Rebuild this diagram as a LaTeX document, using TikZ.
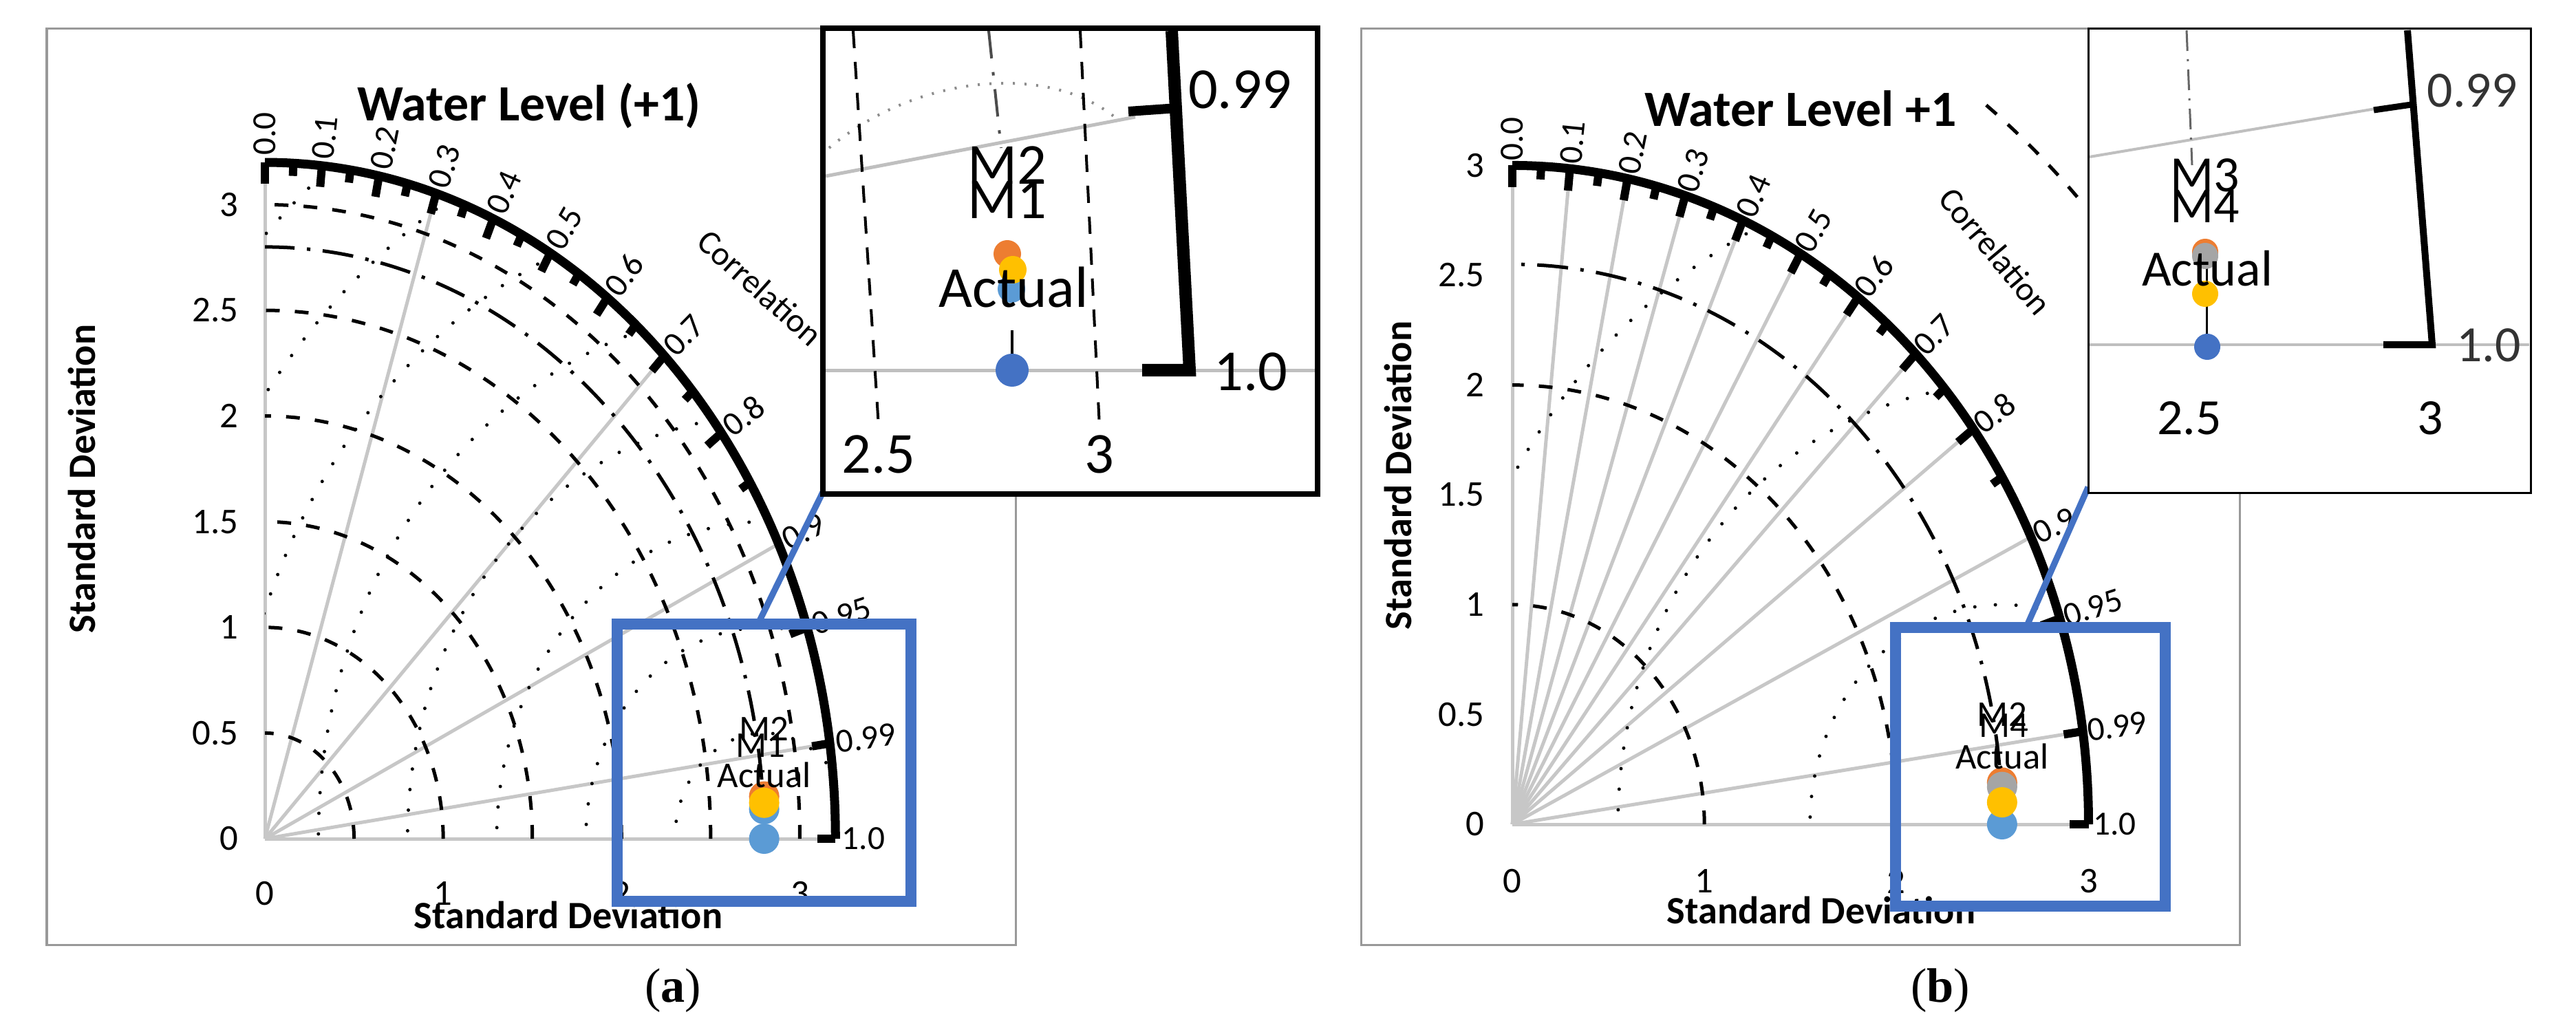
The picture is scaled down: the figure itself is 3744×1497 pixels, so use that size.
\documentclass[tikz,border=0pt]{standalone}
\usepackage{fontspec}
\setmainfont{Carlito}
\newfontfamily\capfont{Liberation Serif}
\begin{document}
\begin{tikzpicture}[x=0.01cm,y=-0.01cm,
  frame/.style={draw=black!40,line width=0.03cm},
  grayline/.style={draw=black!22,line width=0.05cm},
  sdcirc/.style={line width=0.05cm,dash pattern=on 0.2cm off 0.22cm},
  refcirc/.style={line width=0.05cm,dash pattern=on 0.45cm off 0.18cm on 0.05cm off 0.18cm},
  rmscirc/.style={line width=0.05cm,line cap=round,dash pattern=on 0cm off 0.3cm},
  outer/.style={line width=0.13cm},
  tick/.style={line width=0.12cm},
  ttl/.style={font=\fontsize{21}{24}\selectfont\bfseries},
  axl/.style={font=\fontsize{16}{18}\selectfont\bfseries},
  num/.style={font=\fontsize{15}{17}\selectfont},
  clab/.style={font=\fontsize{14}{16}\selectfont},
  big/.style={font=\fontsize{24}{26}\selectfont},
  bigb/.style={font=\fontsize{21}{23}\selectfont},
  bluebox/.style={draw=blue1,line width=0.16cm},
  dot/.style={circle,inner sep=0pt,minimum size=0.44cm}]
\definecolor{blue1}{HTML}{4472C4}
\definecolor{lblue}{HTML}{5B9BD5}
\definecolor{orng}{HTML}{ED7D31}
\definecolor{yell}{HTML}{FFC000}
\definecolor{gry}{HTML}{A5A5A5}
\useasboundingbox[fill=white] (0,0) rectangle (3744,1497);

%================ PANEL A ================
\draw[frame] (68,42) rectangle (1476,1373);
\begin{scope}[shift={(385,1219)},x=2.59cm,y=3.07cm]
  \def\R{3.2}
  \draw[grayline] (0,0) -- (\R,0);
  \draw[grayline] (0,0) -- (0,\R);
  \foreach \c in {0.3,0.7,0.9,0.99} {\draw[grayline] (0,0) -- ({acos(\c)}:\R);}
  \begin{scope}
    \clip (0,0) -- (\R,0) arc[start angle=0,end angle=90,radius=\R] -- cycle;
    \foreach \r in {0.5,1,1.5,2,2.5,3} {\draw[sdcirc] (\r,0) arc[start angle=0,end angle=90,radius=\r];}
    \draw[refcirc] (2.8,0) arc[start angle=0,end angle=90,radius=2.8];
    \foreach \r in {0.5,1,1.5,2,2.5,3,3.5,4} {\draw[rmscirc] (2.8,0) circle[radius=\r];}
  \end{scope}
  \draw[outer] (\R,0) arc[start angle=0,end angle=90,radius=\R];
  \foreach \c in {0,0.1,...,0.9,0.95,0.99,1.0} {\draw[tick] ({acos(\c)}:\R) -- ({acos(\c)}:\R-0.1);}
  \foreach \c in {0.05,0.15,...,0.85} {\draw[tick] ({acos(\c)}:\R) -- ({acos(\c)}:\R-0.06);}
  \foreach \c/\t [count=\i] in {0/0.0,0.1/0.1,0.2/0.2,0.3/0.3,0.4/0.4,0.5/0.5,0.6/0.6,0.7/0.7,0.8/0.8,0.9/0.9,0.95/0.95,0.99/0.99,1.0/1.0}
    {\node[clab,anchor=west,rotate={acos(\c)},inner sep=1pt] (ca\i) at ({acos(\c)}:\R+0.02) {\t};}
  \foreach \v [count=\i] in {0,0.5,1,1.5,2,2.5,3} {\node[num,anchor=east] (ya\i) at (-0.1,\v) {\v};}
  \foreach \v [count=\i] in {0,1,2,3} {\node[num] (xa\i) at (\v,-0.26) {\v};}
  \node[dot,fill=lblue] (aA) at (2.8,0) {};
  \node[dot,fill=lblue] (aM1) at (2.8,0.14) {};
  \node[dot,fill=orng] (aM2) at (2.8,0.2) {};
  \node[dot,fill=yell] (aM3) at (2.8,0.17) {};
  \node[num] (aM2l) at (2.8,0.52) {M2};
  \node[num] (aM1l) at (2.78,0.44) {M1};
  \node[num] (aAl) at (2.8,0.3) {Actual};
\end{scope}
\node[ttl] (ta) at (769,154) {Water Level (+1)};
\node[clab,rotate=-42] (cora) at (1105,418) {Correlation};
\node[axl,rotate=90] (yla) at (119,696) {Standard Deviation};
\node[axl] (xla) at (826,1330) {Standard Deviation};
\draw[bluebox] (897,907) rectangle (1324,1310);
\coordinate (zA1) at (1104,902);
\coordinate (zA2) at (1203,701);
\draw[blue1,line width=0.09cm] (zA1) -- (zA2);
% inset a
\draw[fill=white,line width=0.08cm] (1196,41) rectangle (1915,718);
\begin{scope}
  \clip (1200,45) rectangle (1911,714);
  \draw[draw=black!25,line width=0.05cm] (1200,538) -- (1911,538);
  \draw[draw=black!25,line width=0.05cm] (1200,256) -- (1650,170);
  \draw[black!45,line width=0.04cm,dash pattern=on 0.03cm off 0.14cm] (1205,215) .. controls (1330,110) and (1520,90) .. (1620,170);
  \draw[line width=0.04cm,dash pattern=on 0.25cm off 0.2cm] (1240,45) -- (1277,620);
  \draw[line width=0.04cm,dash pattern=on 0.25cm off 0.2cm] (1570,45) -- (1598,620);
  \draw[black!70,line width=0.04cm,dash pattern=on 0.4cm off 0.2cm on 0.05cm off 0.2cm] (1437,45) -- (1455,215);
  \draw[line width=0.18cm] (1703,45) -- (1729,538) -- (1660,538);
  \draw[line width=0.14cm] (1640,162) -- (1712,157);
  \draw[line width=0.04cm] (1471,480) -- (1471,520);
  \node[dot,minimum size=0.48cm,fill=blue1] (iaA) at (1471,538) {};
  \node[dot,minimum size=0.4cm,fill=lblue] (iaM1) at (1470,420) {};
  \node[dot,minimum size=0.4cm,fill=orng] (iaM2) at (1464,369) {};
  \node[dot,minimum size=0.4cm,fill=yell] (iaM3) at (1472,392) {};
  \node[big] (iaM2l) at (1464,240) {M2};
  \node[big] (iaM1l) at (1464,290) {M1};
  \node[big] (iaAl) at (1473,418) {Actual};
  \node[big] (ia99) at (1802,130) {0.99};
  \node[big] (ia10) at (1818,540) {1.0};
  \node[big] (ia25) at (1277,660) {2.5};
  \node[big] (ia3) at (1598,660) {3};
\end{scope}
\node[font=\capfont\fontsize{20}{22}\selectfont] (capa) at (978,1440) {(\textbf{a})};

%================ PANEL B ================
\draw[frame] (1978,42) rectangle (3255,1373);
\begin{scope}[shift={(2198,1198)},x=2.79cm,y=3.19cm]
  \def\R{3.0}
  \draw[grayline] (0,0) -- (\R,0);
  \draw[grayline] (0,0) -- (0,\R);
  \foreach \c in {0.1,0.2,...,0.9,0.99} {\draw[grayline] (0,0) -- ({acos(\c)}:\R);}
  \begin{scope}
    \clip (0,0) -- (\R,0) arc[start angle=0,end angle=90,radius=\R] -- cycle;
    \foreach \r in {1,2} {\draw[sdcirc] (\r,0) arc[start angle=0,end angle=90,radius=\r];}
    \draw[refcirc] (2.55,0) arc[start angle=0,end angle=90,radius=2.55];
    \foreach \r in {1,2,3} {\draw[rmscirc] (2.55,0) circle[radius=\r];}
  \end{scope}
  \draw[sdcirc] (53:4.1) arc[start angle=53,end angle=44,radius=4.1];
  \draw[outer] (\R,0) arc[start angle=0,end angle=90,radius=\R];
  \foreach \c in {0,0.1,...,0.9,0.95,0.99,1.0} {\draw[tick] ({acos(\c)}:\R) -- ({acos(\c)}:\R-0.1);}
  \foreach \c in {0.05,0.15,...,0.85} {\draw[tick] ({acos(\c)}:\R) -- ({acos(\c)}:\R-0.06);}
  \foreach \c/\t [count=\i] in {0/0.0,0.1/0.1,0.2/0.2,0.3/0.3,0.4/0.4,0.5/0.5,0.6/0.6,0.7/0.7,0.8/0.8,0.9/0.9,0.95/0.95,0.99/0.99,1.0/1.0}
    {\node[clab,anchor=west,rotate={acos(\c)},inner sep=1pt] (cb\i) at ({acos(\c)}:\R+0.01) {\t};}
  \foreach \v [count=\i] in {0,0.5,1,1.5,2,2.5,3} {\node[num,anchor=east] (yb\i) at (-0.1,\v) {\v};}
  \foreach \v [count=\i] in {0,1,2,3} {\node[num] (xb\i) at (\v,-0.26) {\v};}
  \node[dot,fill=lblue] (bA) at (2.55,0) {};
  \node[dot,fill=orng] (bM1) at (2.55,0.19) {};
  \node[dot,fill=gry] (bM2) at (2.55,0.17) {};
  \node[dot,fill=yell] (bM3) at (2.55,0.1) {};
  \node[num] (bM2l) at (2.55,0.5) {M2};
  \node[num] (bM4l) at (2.56,0.45) {M4};
  \node[num] (bAl) at (2.55,0.31) {Actual};
\end{scope}
\node[ttl] (tb) at (2617,158) {Water Level +1};
\node[clab,rotate=-50] (corb) at (2900,365) {Correlation};
\node[axl,rotate=90] (ylb) at (2032,691) {Standard Deviation};
\node[axl] (xlb) at (2647,1323) {Standard Deviation};
\draw[bluebox] (2755,912) rectangle (3147,1317);
\coordinate (zB1) at (2947,907);
\coordinate (zB2) at (3035,708);
\draw[blue1,line width=0.09cm] (zB1) -- (zB2);
% inset b
\draw[fill=white,line width=0.03cm] (3035,42) rectangle (3678,716);
\begin{scope}
  \clip (3037,44) rectangle (3676,714);
  \draw[draw=black!25,line width=0.04cm] (3037,501) -- (3676,501);
  \draw[draw=black!25,line width=0.04cm] (3037,228) -- (3500,150);
  \draw[black!60,line width=0.03cm,dash pattern=on 0.3cm off 0.12cm on 0.03cm off 0.12cm] (3178,44) -- (3186,240);
  \draw[line width=0.1cm] (3499,44) -- (3535,501) -- (3464,501);
  \draw[line width=0.09cm] (3450,160) -- (3505,152);
  \draw[line width=0.03cm] (3207,360) -- (3207,510);
  \node[dot,minimum size=0.38cm,fill=blue1] (ibA) at (3208,504) {};
  \node[dot,minimum size=0.38cm,fill=orng] (ibM1) at (3205,366) {};
  \node[dot,minimum size=0.38cm,fill=gry] (ibM2) at (3205,372) {};
  \node[dot,minimum size=0.38cm,fill=yell] (ibM3) at (3205,427) {};
  \node[bigb] (ibM3l) at (3205,255) {M3};
  \node[bigb] (ibM4l) at (3205,300) {M4};
  \node[bigb] (ibAl) at (3208,390) {Actual};
  \node[bigb,text=black!80] (ib99) at (3593,132) {0.99};
  \node[bigb,text=black!80] (ib10) at (3617,502) {1.0};
  \node[bigb] (ib25) at (3182,608) {2.5};
  \node[bigb] (ib3) at (3532,608) {3};
\end{scope}
\node[font=\capfont\fontsize{20}{22}\selectfont] (capb) at (2820,1440) {(\textbf{b})};
\end{tikzpicture}
\end{document}
